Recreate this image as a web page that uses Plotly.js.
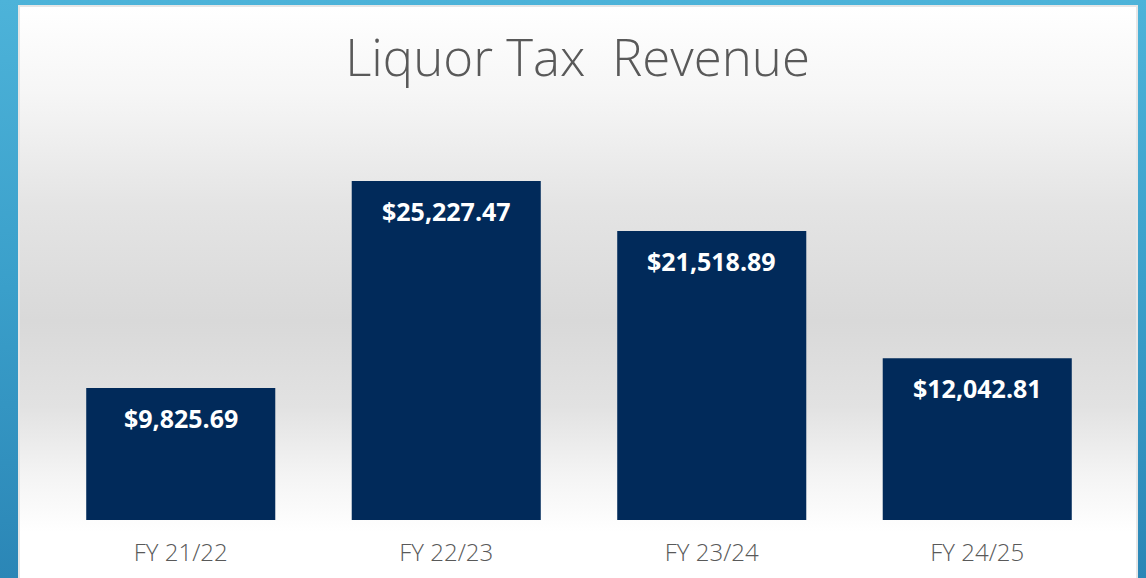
<!DOCTYPE html>
<html>
<head>
<meta charset="utf-8">
<script src="https://cdn.plot.ly/plotly-3.0.1.min.js"></script>
<style>
  html, body { margin: 0; padding: 0; width: 1146px; height: 578px; overflow: hidden; }
  body { background: linear-gradient(180deg, #4db3d9 0%, #3a9fca 50%, #2b86b6 100%); position: relative; }
  #slide { position: absolute; left: 18px; top: 5px; width: 1120px; height: 573px;
    border-left: 2px solid #e6e6e6; border-top: 2px solid #e6e6e6; border-right: 2px solid #e6e6e6; box-sizing: border-box;
    background: linear-gradient(180deg, #ffffff 0%, #f6f6f6 15%, #e4e4e4 35%, #d9d9d9 55%, #e2e2e2 70%, #f4f4f4 82%, #ffffff 92%, #ffffff 100%); }
  #chart { position: absolute; left: 0; top: 0; width: 1146px; height: 578px; }
</style>
</head>
<body>
<div id="slide"></div>
<div id="chart"></div>
<script>
const categories = ["FY 21/22", "FY 22/23", "FY 23/24", "FY 24/25"];
const revenue = [9825.69, 25227.47, 21518.89, 12042.81];
const labels = ["$9,825.69", "$25,227.47", "$21,518.89", "$12,042.81"];
const chartTitle = "Liquor Tax  Revenue";

const trace = {
  type: "bar",
  x: categories,
  y: revenue,
  marker: { color: "#012a5a", line: { width: 0 } },
  hoverinfo: "skip"
};

const annotations = categories.map((c, i) => ({
  x: c, y: revenue[i], xref: "x", yref: "y",
  text: labels[i], showarrow: false,
  yanchor: "middle", yshift: -30,
  font: { family: "Open Sans, sans-serif", size: 25, color: "#ffffff", weight: 700 }
}));

const layout = {
  width: 1146, height: 578,
  margin: { l: 48, r: 36, t: 117, b: 58 },
  paper_bgcolor: "rgba(0,0,0,0)",
  plot_bgcolor: "rgba(0,0,0,0)",
  bargap: 0.288,
  showlegend: false,
  title: {
    text: chartTitle,
    x: 0.504, xanchor: "center",
    y: 0.9, yref: "container", yanchor: "middle",
    font: { family: "Open Sans, sans-serif", size: 51, color: "#595959", weight: 300 }
  },
  xaxis: {
    type: "category",
    showgrid: false, zeroline: false, showline: false,
    ticks: "", ticklen: 0,
    ticklabelstandoff: 16,
    tickfont: { family: "Open Sans, sans-serif", size: 24, color: "#595959", weight: 300 },
    automargin: false
  },
  yaxis: {
    range: [0, 30000],
    visible: false,
    showgrid: false, zeroline: false
  },
  annotations: annotations
};

Plotly.newPlot("chart", [trace], layout, { displayModeBar: false, staticPlot: true });
</script>
</body>
</html>
